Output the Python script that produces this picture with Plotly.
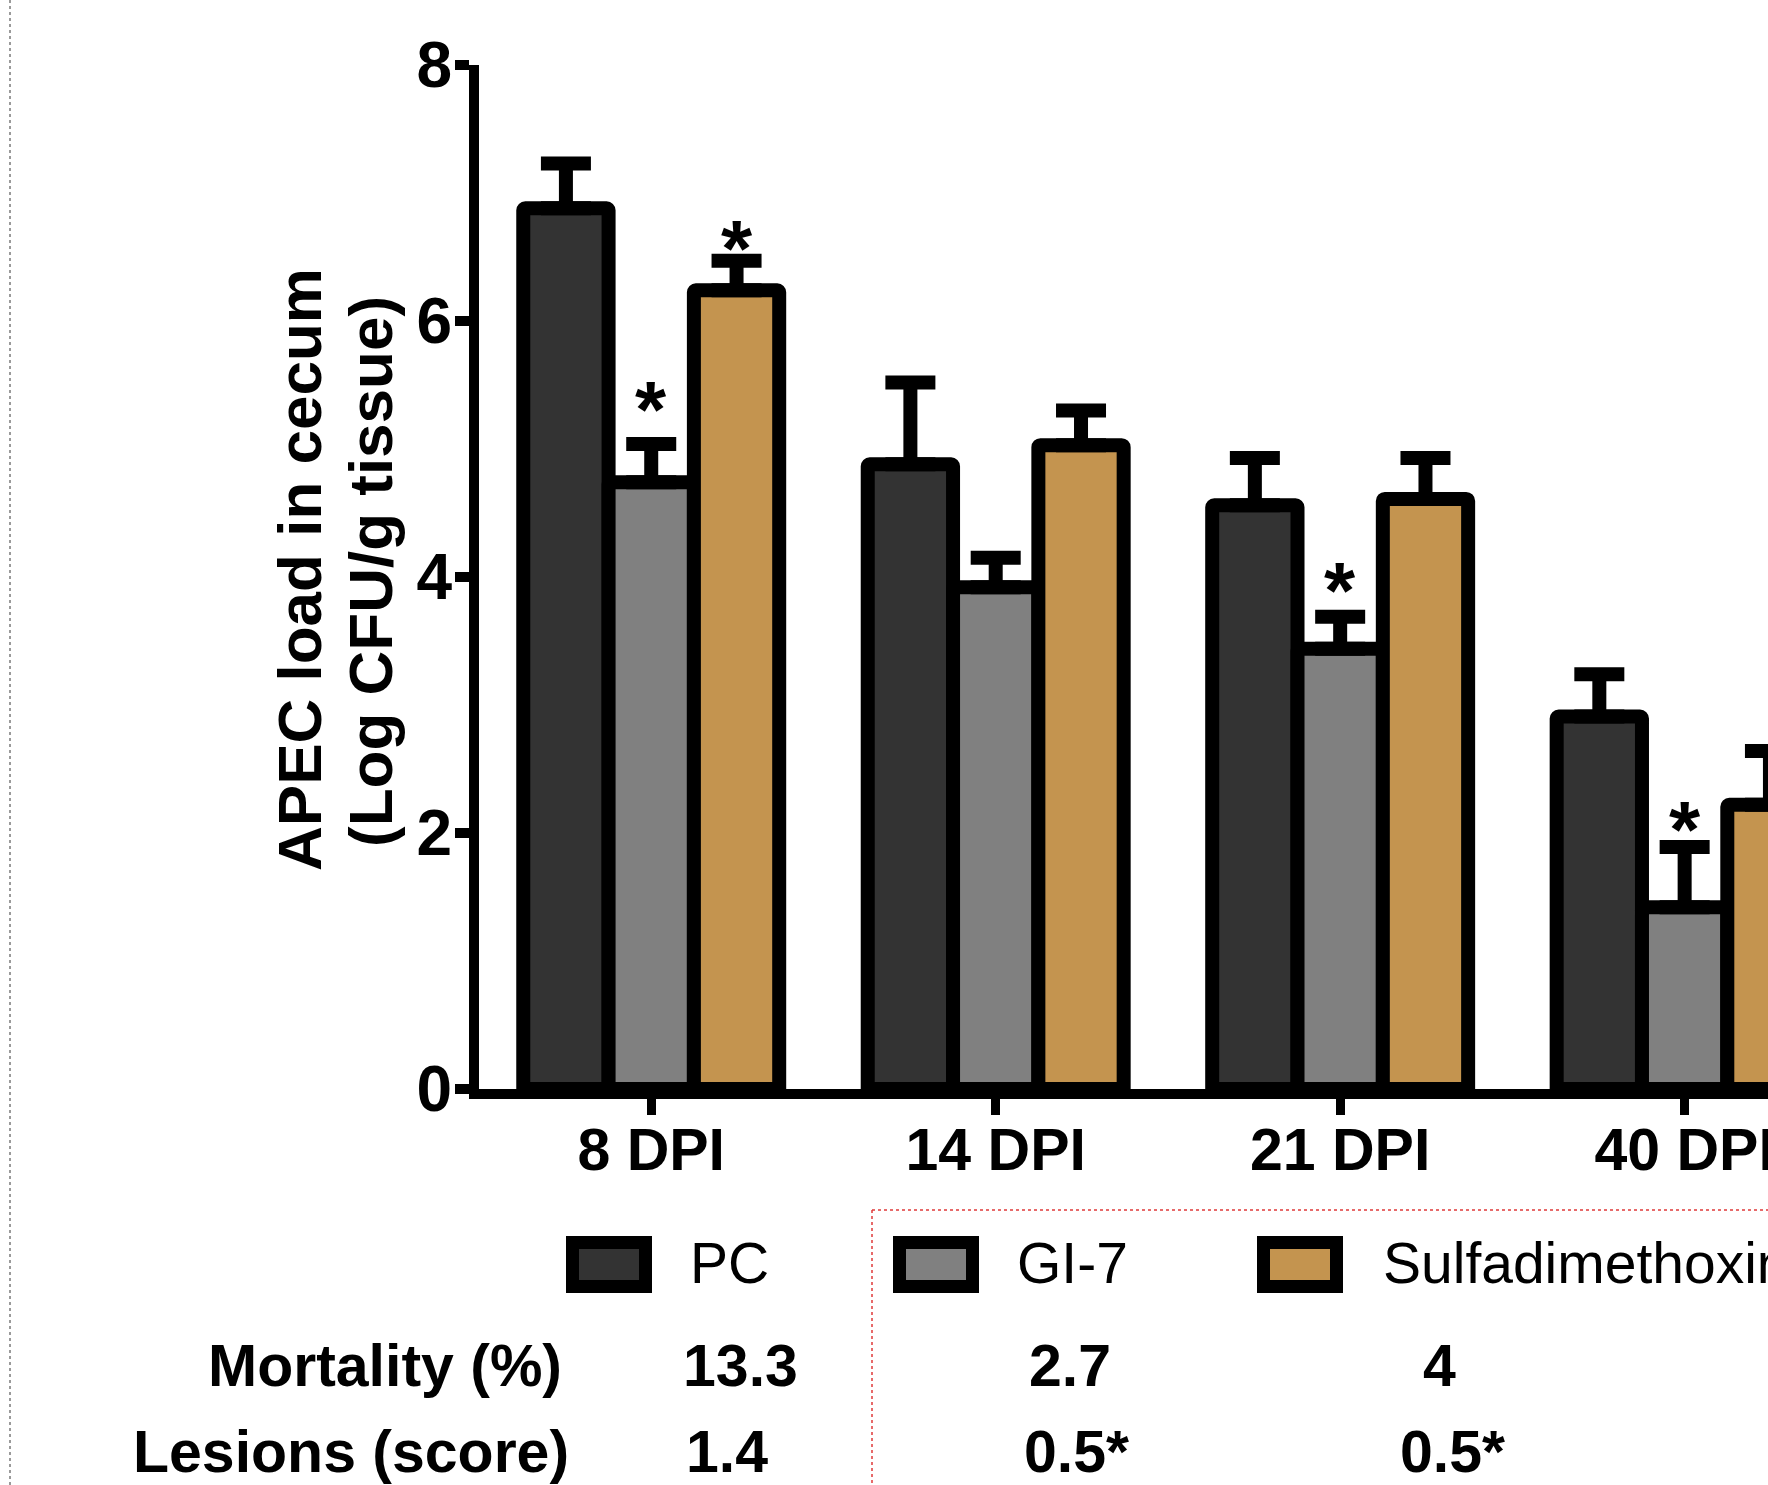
import plotly.graph_objects as go

# ---------------- data ----------------
categories = ["8 DPI", "14 DPI", "21 DPI", "40 DPI"]
groups = ["PC", "GI-7", "Sulfadimethoxine"]

pc_mean = [6.88, 4.88, 4.56, 2.91]
pc_sem = [0.35, 0.64, 0.37, 0.33]
gi7_mean = [4.74, 3.92, 3.44, 1.42]
gi7_sem = [0.30, 0.23, 0.25, 0.47]
sulfa_mean = [6.24, 5.03, 4.61, 2.22]
sulfa_sem = [0.23, 0.27, 0.32, 0.42]

# heights of significance stars (None = no star)
pc_star = [None, None, None, None]
gi7_star = [5.44, None, 4.03, 2.16]
sulfa_star = [6.70, None, None, None]

y_ticks = [0, 2, 4, 6, 8]
row_labels = ["Mortality (%)", "Lesions (score)"]
mortality = ["13.3", "2.7", "4"]
lesions = ["1.4", "0.5*", "0.5*"]

colors = ["#333333", "#808080", "#C4944F"]

# ---------------- layout geometry ----------------
W, H = 1768, 1485
L, R, T, B = 479, 0, 65, 396
PW = W - L - R
PH = H - T - B


def px(x):
    return (x - L) / PW


def py(y):
    return (H - B - y) / PH


BARGAP = 0.257
BAR_W = (1 - BARGAP) / 3

fig = go.Figure()
series = [
    (groups[0], pc_mean, pc_sem, colors[0]),
    (groups[1], gi7_mean, gi7_sem, colors[1]),
    (groups[2], sulfa_mean, sulfa_sem, colors[2]),
]
for name, mean, sem, col in series:
    fig.add_trace(go.Bar(
        x=categories, y=mean, name=name,
        marker=dict(color=col, line=dict(color="black", width=14), cornerradius=2),
        error_y=dict(type="data", array=sem, arrayminus=[0] * len(sem), symmetric=False,
                     color="black", thickness=14, width=25),
        showlegend=False,
    ))

annotations = []
BOLD = "Liberation Sans, Arial, sans-serif"

# significance stars
for k, stars in enumerate([pc_star, gi7_star, sulfa_star]):
    for i, s in enumerate(stars):
        if s is None:
            continue
        annotations.append(dict(
            x=i + (k - 1) * BAR_W, y=s, xref="x", yref="y", text="*", showarrow=False,
            font=dict(family=BOLD, size=80, color="black", weight="bold"),
            xanchor="center", yanchor="middle", yshift=-17,
        ))

# y-axis title (two lines)
annotations.append(dict(x=px(299), y=py(570), xref="paper", yref="paper",
                        text="APEC load in cecum", textangle=-90, showarrow=False,
                        font=dict(family=BOLD, size=62, color="black", weight="bold"),
                        xanchor="center", yanchor="middle"))
annotations.append(dict(x=px(370), y=py(572), xref="paper", yref="paper",
                        text="(Log CFU/g tissue)", textangle=-90, showarrow=False,
                        font=dict(family=BOLD, size=62, color="black", weight="bold"),
                        xanchor="center", yanchor="middle"))

# custom legend
shapes = []
sw_x = [566, 893, 1257]
tx_x = [688, 1015, 1381]
for k in range(3):
    x0, x1 = sw_x[k] + 6.5, sw_x[k] + 86 - 6.5
    y0, y1 = 1236 + 6.5, 1293 - 6.5
    shapes.append(dict(type="rect", xref="paper", yref="paper",
                       x0=px(x0), x1=px(x1), y0=py(y1), y1=py(y0),
                       line=dict(color="black", width=13), fillcolor=colors[k]))
    annotations.append(dict(x=px(tx_x[k]), y=py(1263), xref="paper", yref="paper",
                            text=groups[k], showarrow=False, xanchor="left", yanchor="middle",
                            font=dict(family=BOLD, size=57, color="black")))

# table below
row_y = [1366, 1452]
label_cx = [385, 351]
val_cx = [[740, 1070, 1439], [727, 1076, 1452]]
for r, (lab, vals) in enumerate(zip(row_labels, [mortality, lesions])):
    annotations.append(dict(x=px(label_cx[r]), y=py(row_y[r]), xref="paper", yref="paper",
                            text=lab, showarrow=False, xanchor="center", yanchor="middle",
                            font=dict(family=BOLD, size=59, color="black", weight="bold")))
    for c, v in enumerate(vals):
        annotations.append(dict(x=px(val_cx[r][c]), y=py(row_y[r]), xref="paper", yref="paper",
                                text=v, showarrow=False, xanchor="center", yanchor="middle",
                                font=dict(family=BOLD, size=59, color="black", weight="bold")))

# dotted guide lines
shapes.append(dict(type="line", xref="paper", yref="paper", x0=px(10), x1=px(10),
                   y0=py(0), y1=py(H), line=dict(color="#9a9a9a", width=2, dash="dot")))
shapes.append(dict(type="line", xref="paper", yref="paper", x0=px(872), x1=px(872),
                   y0=py(1210), y1=py(H), line=dict(color="#e03a3a", width=1.5, dash="dot")))
shapes.append(dict(type="line", xref="paper", yref="paper", x0=px(872), x1=px(W),
                   y0=py(1210), y1=py(1210), line=dict(color="#e03a3a", width=1.5, dash="dot")))

fig.update_layout(
    width=W, height=H,
    margin=dict(l=L, r=R, t=T, b=B, pad=0),
    paper_bgcolor="white", plot_bgcolor="white",
    barmode="group", bargap=BARGAP, bargroupgap=0,
    showlegend=False,
    annotations=annotations, shapes=shapes,
)
fig.update_xaxes(
    type="category", range=[-0.5, 3.242], showgrid=False, zeroline=False,
    showline=True, linecolor="black", linewidth=10,
    ticks="outside", ticklen=16, tickwidth=9, tickcolor="black",
    tickfont=dict(family=BOLD, size=59, color="black", weight="bold"),
    ticklabelstandoff=-16,
    automargin=False,
)
fig.update_yaxes(
    range=[0, 8], tickvals=y_ticks, showgrid=False, zeroline=False,
    showline=True, linecolor="black", linewidth=10,
    ticks="outside", ticklen=14, tickwidth=10, tickcolor="black",
    tickfont=dict(family=BOLD, size=64, color="black", weight="bold"),
    ticklabelstandoff=-10,
    automargin=False,
)

fig.write_html("out.html",
               config={"displayModeBar": False},
               post_script="document.body.style.margin='0';document.body.style.overflow='hidden';")
